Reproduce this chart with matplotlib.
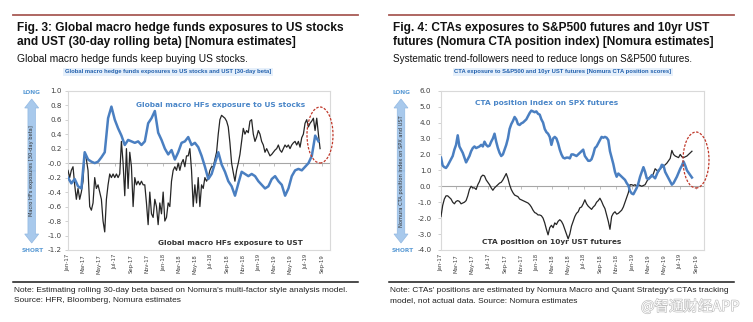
import numpy as np
import pandas as pd
import matplotlib
matplotlib.use("Agg")
import matplotlib.pyplot as plt
import matplotlib.dates as mdates
from matplotlib.patches import Ellipse, FancyArrow
import matplotlib.patheffects as pe

plt.rcParams['font.family'] = ['DejaVu Sans']
plt.rcParams['axes.unicode_minus'] = False

# ---------------- data ----------------
# Fig. 3: Global macro HFs 30-day beta
hf_stocks_start, hf_stocks_end = "2017-01-01", "2019-08-18"
hf_stocks = [-0.20, -0.28, -0.22, -0.32, -0.35, 0.15, 0.05, 0.02, 0.00, 0.02,
             0.08, 0.15, 0.62, 0.78, 0.60, 0.48, 0.38, 0.25, 0.32, 0.30,
             0.28, 0.30, 0.25, 0.30, 0.55, 0.62, 0.72, 0.42, 0.32, 0.20,
             0.12, 0.18, 0.05, 0.15, 0.28, 0.30, 0.36, 0.25, 0.28, 0.22,
             0.10, -0.05, -0.22, -0.15, 0.00, 0.15, -0.02, -0.12, -0.25, -0.32,
             -0.45, -0.28, -0.12, -0.15, -0.18, -0.15, -0.18, -0.25, -0.30, -0.35,
             -0.32, -0.22, -0.18, -0.25, -0.30, -0.45, -0.35, -0.18, -0.10, -0.08,
             -0.10, -0.05, 0.00, 0.10, 0.38, 0.30]

hf_ust_start, hf_ust_end = "2017-01-01", "2019-08-24"
hf_ust = [-0.10, -0.20, -0.10, -0.05, -0.30, -0.50, -0.35, -0.50, -0.40, -0.25,
          0.15, 0.05, -0.10, -0.60, -0.65, -0.55, -0.20, -0.35, -0.30, -0.40,
          -0.50, -0.80, -0.95, -0.50, -0.30, -0.15, -0.20, -0.15, -0.20, -0.15,
          -0.20, -0.15, 0.30, 0.00, -0.45, 0.20, -0.35, 0.15, -0.05, -0.60,
          -0.20, -0.30, -0.25, -0.30, -0.25, -0.30, -0.30, -0.55, -0.85, -0.40,
          -0.70, -0.75, -0.50, -0.60, -0.85, -0.55, -0.70, -0.40, -0.80, -0.75,
          -0.55, -0.60, -0.25, -0.10, -0.05, -0.10, 0.00, -0.10, 0.00, 0.05,
          -0.05, 0.10, 0.10, 0.20, -0.10, -0.60, -0.30, -0.55, -0.20, -0.60,
          -0.30, -0.35, -0.20, -0.25, -0.20, -0.10, -0.05, -0.05, 0.05, 0.15,
          0.40, 0.60, 0.66, 0.64, 0.62, 0.58, 0.50, 0.28, 0.00, -0.13,
          -0.25, -0.10, 0.00, 0.12, 0.30, 0.48, 0.40, 0.45, 0.42, 0.58,
          0.60, 0.40, 0.30, 0.36, 0.45, 0.40, 0.30, 0.25, 0.15, 0.20,
          0.15, 0.10, 0.12, 0.15, 0.18, 0.20, 0.25, 0.18, 0.15, 0.20,
          0.25, 0.22, 0.25, 0.20, 0.25, 0.28, 0.30, 0.25, 0.30, 0.22,
          0.35, 0.40, 0.55, 0.60, 0.50, 0.55, 0.58, 0.62, 0.45, 0.62,
          0.40, 0.20]

# Fig. 4: Nomura CTA position index
cta_start, cta_end = "2017-01-01", "2019-08-16"
cta_spx = [1.8, 1.3, 1.2, 1.15, 1.3, 1.5, 1.7, 1.9, 2.3, 2.6,
           3.2, 2.5, 2.3, 2.1, 1.8, 1.5, 1.7, 1.9, 2.2, 2.4,
           2.5, 2.4, 2.45, 2.5, 2.6, 2.5, 2.8, 2.6, 2.5, 2.55,
           2.8, 3.0, 3.3, 2.8, 2.4, 2.1, 1.9, 2.0, 2.3, 2.6,
           3.0, 3.6, 3.9, 4.1, 4.35, 4.2, 3.9, 3.85, 3.95, 4.0,
           4.1, 4.2, 4.4, 4.6, 4.75, 4.7, 4.65, 4.7, 4.55, 4.5,
           4.2, 4.0, 3.6, 3.4, 3.3, 3.1, 2.6, 3.0, 3.1, 3.0,
           2.7, 2.3, 2.0, 1.8, 1.75, 1.8, 1.8, 1.75, 2.0, 2.0,
           1.95, 1.9, 2.0, 2.1, 2.2, 2.3, 1.9, 1.75, 1.6, 1.6,
           1.7, 2.0, 2.4, 2.5, 2.7, 2.9, 3.1, 3.05, 3.1, 3.05,
           2.9, 2.2, 1.8, 1.4, 0.9, 0.6, 0.8, 0.7, 0.6, 0.5,
           0.4, 0.2, 0.05, -0.3, -0.45, -0.5, -0.3, -0.1, 0.2, 0.6,
           0.9, 1.2, 0.9, 0.5, 0.45, 0.55, 0.7, 0.6, 0.5, 0.75,
           1.0, 1.1, 1.35, 1.3, 0.9, 0.7, 0.5, 0.3, 0.1, 0.2,
           0.4, 0.6, 0.85, 1.1, 1.3, 1.55, 1.3, 1.0, 0.85, 0.7,
           0.55]
cta_ust = [-1.9, -1.2, -0.8, -0.6, -0.6, -0.7, -0.8, -1.0, -1.1, -0.95,
           -0.9, -0.95, -1.1, -1.05, -1.0, -0.9, -0.6, -0.2, 0.0, -0.1,
           -0.1, -0.2, 0.1, 0.3, 0.6, 0.7, 0.65, 0.4, 0.25, 0.1,
           -0.1, -0.25, -0.1, 0.0, 0.1, 0.2, 0.25, 0.4, 0.6, 0.8,
           0.5, 0.1, -0.2, -0.4, -0.55, -0.6, -0.65, -0.8, -0.85, -0.9,
           -0.95, -1.0, -1.05, -1.15, -1.3, -1.5, -1.65, -1.7, -1.8, -1.8,
           -1.85, -2.0, -2.3, -2.7, -3.05, -2.6, -2.45, -2.6, -2.3, -2.4,
           -2.2, -2.1, -2.2, -2.4, -2.7, -3.0, -3.3, -3.0, -2.5, -2.2,
           -1.9, -1.7, -1.6, -1.35, -1.3, -1.1, -0.85, -1.1, -1.25, -1.35,
           -1.45, -1.3, -1.2, -1.0, -0.9, -0.75, -0.95, -1.2, -1.4, -1.8,
           -2.2, -2.7, -1.9, -1.7, -1.6, -1.75, -1.7, -1.6, -1.5, -1.3,
           -1.0, -0.7, -0.4, 0.1, 0.1, 0.05, 0.1, 0.0, 0.1, 0.05,
           0.0, 0.05, 0.1, 0.3, 0.5, 0.6, 0.6, 0.8, 1.1, 1.0,
           0.9, 1.1, 1.2, 1.25, 1.35, 1.45, 1.6, 1.75, 2.25, 2.0,
           1.9, 1.85, 1.8, 2.0, 1.85, 1.8, 1.85, 1.9, 2.0, 2.1,
           2.2]

x_min, x_max = "2017-01-01", "2019-10-01"

# ---------------- text ----------------
titles = [["Fig. 3: Global macro hedge funds exposures to US stocks",
           "and UST (30-day rolling beta) [Nomura estimates]"],
          ["Fig. 4: CTAs exposures to S&P500 futures and 10yr UST",
           "futures (Nomura CTA position index) [Nomura estimates]"]]
subtitles = ["Global macro hedge funds keep buying US stocks.",
             "Systematic trend-followers need to reduce longs on S&P500 futures."]
chart_titles = ["Global macro hedge funds exposures to US stocks and UST [30-day beta]",
                "CTA exposure to S&P500 and 10yr UST futures [Nomura CTA position scores]"]
notes = [["Note: Estimating rolling 30-day beta based on Nomura's multi-factor style analysis model.",
          "Source: HFR, Bloomberg, Nomura estimates"],
         ["Note: CTAs' positions are estimated by Nomura Macro and Quant Strategy's CTAs tracking",
          "model, not actual data. Source: Nomura estimates"]]
axis_labels = ["Macro HFs exposures [30-day beta]", "Nomura CTA position index on SPX and UST"]
series_labels = [["Global macro HFs exposure to US stocks", "Global macro HFs exposure to UST"],
                 ["CTA position index on SPX futures", "CTA position on 10yr UST futures"]]
watermark = "@智通财经APP"

W, H = 753, 322
fig = plt.figure(figsize=(W / 100, H / 100), dpi=100)
fig.patch.set_facecolor("white")


def fx(px):
    return px / W


def fy(py):
    return 1 - py / H


BLUE = "#4a7fc1"
DARK = "#262626"
TF = "Liberation Sans"


def dnum(start, end, n):
    return mdates.date2num(pd.date_range(start, end, periods=n))


def make_panel(x0, ax_left, ax_right, ylim, ystep, blue_vals, blue_dates,
               black_vals, black_dates, idx, lab_pos, arrow_x, long_x, ypad,
               ell_center, tsize, ssize, nsize):
    # header
    fig.add_artist(plt.Line2D([fx(x0 + 13), fx(x0 + 358)], [fy(15), fy(15)],
                              color="#a85a55", lw=1.3))
    fig.text(fx(x0 + 17), fy(28), titles[idx][0], family=TF, weight="bold",
             fontsize=tsize, va="center", color="#111111")
    fig.text(fx(x0 + 17), fy(42), titles[idx][1], family=TF, weight="bold",
             fontsize=tsize, va="center", color="#111111")
    fig.text(fx(x0 + 17), fy(59), subtitles[idx], family=TF, fontsize=ssize,
             va="center", color="#111111")
    fig.text(fx(x0 + 168 if idx == 0 else x0 + 187), fy(72), chart_titles[idx],
             family=TF, weight="bold", fontsize=4.2, va="center", ha="center",
             color="#2160ad",
             bbox=dict(boxstyle="square,pad=0.25", fc="#e6f0fb", ec="none"))

    ax = fig.add_axes([fx(ax_left), fy(250), fx(ax_right - ax_left), (250 - 90.7) / H])
    ax.plot(black_dates, black_vals, color=DARK, lw=0.9, zorder=3)
    ax.plot(blue_dates, blue_vals, color=BLUE, lw=1.8, zorder=4)
    ax.set_xlim(mdates.date2num(pd.Timestamp(x_min)), mdates.date2num(pd.Timestamp(x_max)))
    ax.set_ylim(*ylim)
    ax.set_yticks(np.arange(ylim[0], ylim[1] + ystep / 2, ystep))
    ax.yaxis.set_major_formatter(plt.FuncFormatter(lambda v, p: f"{v:.1f}"))
    loc = mdates.MonthLocator(bymonth=[1, 3, 5, 7, 9, 11])
    ax.xaxis.set_major_locator(loc)
    ax.xaxis.set_major_formatter(mdates.DateFormatter("%b-%y"))
    ax.tick_params(axis="x", length=0, labelsize=3.9, labelrotation=90,
                   labelcolor="#404040", pad=3)
    ax.tick_params(axis="y", length=2, width=0.5, color="#bfbfbf", labelsize=5.2,
                   labelcolor="#404040", pad=ypad)
    for s in ax.spines.values():
        s.set_color("#d9d9d9")
        s.set_linewidth(0.8)
    frac0 = (0 - ylim[0]) / (ylim[1] - ylim[0])
    sec = ax.secondary_xaxis(frac0)
    sec.xaxis.set_major_locator(mdates.MonthLocator(bymonth=[1, 3, 5, 7, 9, 11]))
    sec.tick_params(axis="x", direction="out", length=2, width=0.5, color="#a6a6a6",
                    labelbottom=False, labeltop=False, bottom=True, top=False)
    sec.xaxis.set_ticks_position("bottom")
    sec.set_xticklabels([])
    for s in sec.spines.values():
        s.set_color("#a6a6a6")
        s.set_linewidth(0.8)

    # series labels
    (bx, by), (kx, ky) = lab_pos
    fig.text(fx(bx), fy(by), series_labels[idx][0], fontsize=5.3, weight="bold",
             color="#4a86c8", ha="center", va="center")
    fig.text(fx(kx), fy(ky), series_labels[idx][1], fontsize=5.3, weight="bold",
             color="#333333", ha="center", va="center")

    # red dashed ellipse
    ex, ey = ell_center
    e = Ellipse(((ex - ax_left) / (ax_right - ax_left), (250 - ey) / 159.3),
                width=26 / (ax_right - ax_left), height=56 / 159.3,
                transform=ax.transAxes, fill=False, ec="#c0392b", lw=0.9,
                ls=(0, (2, 1.2)), clip_on=False, zorder=6)
    ax.add_patch(e)

    # LONG / SHORT arrow
    fig.text(fx(long_x), fy(92.5), "LONG", fontsize=4.2, weight="bold",
             color="#5b9bd5", ha="center", va="center")
    fig.text(fx(long_x + 2), fy(250.5), "SHORT", fontsize=4.2, weight="bold",
             color="#5b9bd5", ha="center", va="center")
    ymid = (H - 171) / 100
    for dy in (1, -1):
        arr = FancyArrow(arrow_x / 100, ymid, 0, dy * (72 / 100), width=0.075,
                         head_width=0.14, head_length=0.09,
                         length_includes_head=True, transform=fig.dpi_scale_trans,
                         fc="#a8c9ec", ec="#93b9e2", lw=0.5)
        fig.add_artist(arr)
    fig.text(fx(arrow_x), fy(171), axis_labels[idx], fontsize=3.7, rotation=90,
             color="#333333", ha="center", va="center")

    # footer
    fig.add_artist(plt.Line2D([fx(x0 + 13), fx(x0 + 358)], [fy(282), fy(282)],
                              color="#1a1a1a", lw=1.1))
    fig.text(fx(x0 + 14), fy(290.5), notes[idx][0], family=TF, fontsize=nsize,
             va="center", color="#222222")
    fig.text(fx(x0 + 14), fy(301), notes[idx][1], family=TF, fontsize=nsize,
             va="center", color="#222222")
    return ax


make_panel(0, 68, 330, (-1.2, 1.0), 0.2,
           hf_stocks, dnum(hf_stocks_start, hf_stocks_end, len(hf_stocks)),
           hf_ust, dnum(hf_ust_start, hf_ust_end, len(hf_ust)),
           0, ((221, 105), (230, 243)), 31.7, 31, 2.5, (320, 135), 8.55, 7.35, 6.0)
make_panel(376, 441, 704, (-4.0, 6.0), 1.0,
           cta_spx, dnum(cta_start, cta_end, len(cta_spx)),
           cta_ust, dnum(cta_start, cta_end, len(cta_ust)),
           1, ((547, 103), (552, 242)), 401, 401, 5, (696, 160), 8.6, 7.1, 6.0)

fig.text(fx(690), fy(306.5), watermark, family=["Noto Sans CJK SC", "DejaVu Sans"],
         fontsize=10.4, color="white", ha="center", va="center",
         path_effects=[pe.withStroke(linewidth=0.9, foreground="#bdbdbd")])

fig.savefig("out.png", dpi=100, facecolor="white")
